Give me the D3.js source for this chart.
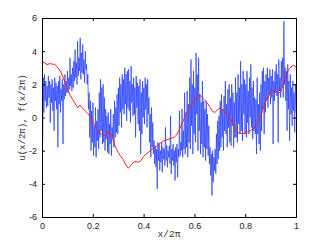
<!DOCTYPE html>
<html><head><meta charset="utf-8">
<script src="https://cdn.jsdelivr.net/npm/d3@7"></script>
<style>html,body{margin:0;padding:0;background:#fff;}svg{display:block;}</style>
</head><body>
<svg id="c" width="327" height="245"></svg>
<script>
const xTicks = [0, 0.2, 0.4, 0.6, 0.8, 1];
const xTickLabels = ["0", "0.2", "0.4", "0.6", "0.8", "1"];
const yTicks = [-6, -4, -2, 0, 2, 4, 6];
const yTickLabels = ["-6", "-4", "-2", "0", "2", "4", "6"];
const xLabel = "x/2π";
const yLabel = "u(x/2π), f(x/2π)";

// red series f(x/2π), sampled every 0.01
const fValues = [
 3.36, 3.30, 3.18, 3.25, 3.22, 3.20, 3.05, 2.85, 2.55, 2.15,
 1.70, 1.35, 1.10, 0.85, 0.60, 0.75, 0.55, 0.40, 0.25, 0.05,
 -0.25, -0.55, -0.75, -0.95, -1.10, -1.10, -0.90, -0.95, -1.35, -1.80,
 -2.10, -2.35, -2.55, -2.85, -3.05, -2.90, -2.70, -2.65, -2.70, -2.60,
 -2.35, -2.20, -2.10, -1.95, -1.85, -1.75, -1.60, -1.50, -1.40, -1.35,
 -1.30, -1.25, -1.20, -1.05, -0.75, -0.40, -0.05, 0.30, 0.55, 0.80,
 1.05, 1.25, 1.38, 1.20, 1.05, 0.90, 0.65, 0.40, 0.30, 0.45,
 0.55, 0.50, 0.35, 0.15, -0.05, -0.35, -0.70, -0.90, -0.95, -0.95,
 -0.95, -0.85, -0.80, -0.70, -0.55, -0.30, 0.05, 0.50, 0.95, 1.20,
 1.55, 1.65, 1.50, 1.45, 1.55, 2.00, 2.50, 2.85, 3.05, 3.15,
 3.05
];

// blue series u(x/2π), 8 samples per 0.02 interval
const uValues = [
 1.2, -1.5, 2.4, 0.3, 2.6, 1.0, 2.2, 0.6,
 1.9, 0.7, 2.5, 1.2, 2.2, -0.3, 2.0, 0.9,
 2.3, 0.4, 1.8, -0.8, 2.4, 1.0, 2.1, 0.5,
 1.9, -1.8, 2.2, 0.8, 2.5, 0.3, 1.7, 1.0,
 2.3, -1.6, 2.0, 1.1, 2.6, 1.3, 2.2, 1.5,
 2.8, 1.5, 2.4, 1.7, 3.6, 1.9, 2.6, 1.6,
 3.0, 1.8, 3.4, 2.2, 4.1, 2.4, 3.3, 2.0,
 4.6, 2.5, 3.6, 2.8, 4.8, 2.3, 3.9, 2.7,
 4.4, 2.6, 3.5, 2.1, 4.0, 2.9, 3.2, 2.0,
 2.6, 0.5, 1.5, -1.2, 1.0, -2.0, 0.4, -1.5,
 0.9, -2.3, -0.5, -1.8, 0.6, -2.4, -0.2, -1.4,
 0.5, -1.9, 1.5, -1.2, 2.3, -0.8, 1.8, -1.6,
 2.0, -1.5, 1.2, -2.0, 0.5, -1.3, 0.1, -2.1,
 0.3, -2.2, -0.4, -1.6, 0.5, -2.3, -0.6, -1.2,
 0.2, -1.8, 1.0, -1.2, 0.6, -0.9, 1.4, -1.0,
 1.8, -0.5, 2.4, 0.3, 2.0, -0.6, 2.6, 0.5,
 2.3, 0.2, 3.0, 0.8, 2.6, -0.2, 2.8, 0.6,
 2.9, 0.4, 2.2, -0.3, 3.1, 0.9, 2.0, 0.1,
 2.4, 0.2, 1.8, -1.2, 2.5, 0.6, 2.1, -0.4,
 1.9, -0.8, 2.3, -2.2, 1.5, -1.0, 2.2, 0.0,
 1.8, -0.4, 2.4, 0.5, 2.0, -0.6, 2.3, 0.2,
 1.2, -1.5, 0.2, -2.4, 0.6, -1.8, -0.3, -2.2,
 -1.4, -2.8, -1.7, -3.0, -1.9, -4.3, -1.5, -2.6,
 -1.6, -3.2, -2.0, -2.7, -1.5, -3.3, -1.8, -2.5,
 -1.9, -2.9, -0.6, -2.6, -1.7, -3.0, -2.0, -2.4,
 -1.7, -2.8, 0.1, -3.4, -1.9, -2.6, -1.6, -2.9,
 -2.0, -3.8, -1.8, -2.7, -1.6, -3.6, -1.9, -2.4,
 0.4, -2.3, -1.5, -2.0, 0.5, -2.4, -0.8, -1.9,
 1.5, -2.2, 0.3, -1.8, 1.6, -2.4, 0.8, -1.5,
 2.4, -1.9, 3.5, -0.5, 2.0, -2.2, 2.8, -1.0,
 1.8, -1.5, 3.9, 0.2, 2.6, -2.0, 3.6, -0.8,
 1.4, -2.2, 0.9, -1.6, 2.2, -2.4, 1.0, -1.8,
 0.5, -2.6, 1.0, -1.9, 0.2, -2.3, -0.5, -2.8,
 -1.8, -3.5, -2.2, -4.7, -2.0, -3.9, -2.4, -3.2,
 -1.9, -3.4, -1.0, -2.8, -0.2, -2.5, 0.1, -2.0,
 1.0, -1.8, 1.4, -1.2, 0.5, -2.0, 1.3, -0.8,
 2.2, -1.0, 0.8, -1.8, 1.7, -0.6, 2.0, -1.5,
 1.2, -1.7, 2.0, -0.5, 1.5, -1.8, 0.9, -1.2,
 2.4, -1.2, 1.5, -1.5, 2.6, -0.4, 1.8, -1.0,
 3.4, -0.8, 2.0, -1.4, 2.8, 0.2, 2.3, -1.0,
 2.0, -1.2, 2.8, -0.3, 1.6, -1.0, 2.4, 0.0,
 3.2, -0.6, 1.8, -1.3, 2.2, -0.8, 1.2, -1.0,
 1.1, -2.2, 2.4, -1.0, 0.8, -1.6, 1.5, -2.0,
 2.0, -0.8, 2.8, 0.5, 3.0, -1.0, 2.2, 0.3,
 2.6, 1.0, 3.0, 0.6, 2.4, 1.4, 2.9, 0.8,
 2.5, 1.2, 2.9, -1.6, 2.2, 1.0, 2.8, 1.5,
 3.2, 1.3, 2.6, -1.5, 3.5, 1.6, 2.4, 1.2,
 3.4, 1.8, 3.6, 1.2, 5.8, 2.0, 3.0, 1.0,
 2.8, -0.8, 3.2, 0.5, 2.2, -1.4, 2.6, 0.2,
 1.8, -0.5, 2.2, 0.4, 1.5, -0.9, 2.0, 0.3
];

const L = 42, R = 296, T = 18, B = 217;
const svg = d3.select("#c");
const x = d3.scaleLinear().domain([0, 1]).range([L, R]);
const y = d3.scaleLinear().domain([-6, 6]).range([B, T]);

svg.append("defs").append("clipPath").attr("id", "clip")
  .append("rect").attr("x", L).attr("y", T).attr("width", R - L).attr("height", B - T);

const g = svg.append("g").attr("clip-path", "url(#clip)");
const uLine = d3.line().x((d, i) => x(i / (uValues.length - 1))).y(d => y(d));
g.append("path").datum(uValues).attr("d", uLine)
  .attr("fill", "none").attr("stroke", "#1a35ff").attr("stroke-width", 0.85)
  .attr("stroke-opacity", 0.8).attr("stroke-linejoin", "round");

const fLine = d3.line().x((d, i) => x(i / (fValues.length - 1))).y(d => y(d));
g.append("path").datum(fValues).attr("d", fLine)
  .attr("fill", "none").attr("stroke", "#ff1a1a").attr("stroke-width", 1)
  .attr("stroke-linejoin", "round");

// axes
const font = "'Liberation Sans', Arial, Helvetica, sans-serif";
const xAxisB = d3.axisBottom(x).tickValues(xTicks).tickSize(-3).tickPadding(6)
  .tickFormat((d, i) => xTickLabels[i]);
const xAxisT = d3.axisTop(x).tickValues(xTicks).tickSize(-3).tickFormat("");
const yAxisL = d3.axisLeft(y).tickValues(yTicks).tickSize(-3).tickPadding(5)
  .tickFormat((d, i) => yTickLabels[i]);
const yAxisR = d3.axisRight(y).tickValues(yTicks).tickSize(-3).tickFormat("");

function style(sel) {
  sel.selectAll(".domain").attr("stroke", "#000").attr("stroke-width", 1);
  sel.selectAll(".tick line").attr("stroke", "#000").attr("stroke-width", 1);
  sel.selectAll("text").attr("font-family", font).attr("font-size", 9).attr("fill", "#222");
}
svg.append("g").attr("transform", `translate(0,${B})`).call(xAxisB).call(style);
svg.append("g").attr("transform", `translate(0,${T})`).call(xAxisT).call(style);
svg.append("g").attr("transform", `translate(${L},0)`).call(yAxisL).call(style);
svg.append("g").attr("transform", `translate(${R},0)`).call(yAxisR).call(style);

svg.append("text").attr("x", (L + R) / 2).attr("y", 237).attr("text-anchor", "middle")
  .attr("font-family", "'Liberation Mono', 'DejaVu Sans Mono', monospace").attr("font-size", 9.5)
  .attr("fill", "#333").text(xLabel);
svg.append("text").attr("transform", `translate(25,${(T + B) / 2}) rotate(-90)`)
  .attr("text-anchor", "middle")
  .attr("font-family", "'Liberation Mono', 'DejaVu Sans Mono', monospace").attr("font-size", 9)
  .attr("fill", "#333").text(yLabel);
</script>
</body></html>
